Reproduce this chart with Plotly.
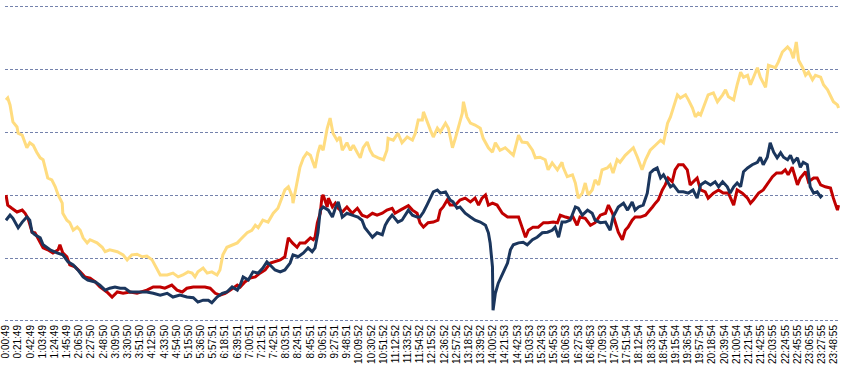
import plotly.graph_objects as go

# Tick labels (every 21 minutes)
tick_labels = [
    "0:00:49", "0:21:49", "0:42:49", "1:03:49", "1:24:49", "1:45:49", "2:06:50", "2:27:50",
    "2:48:50", "3:09:50", "3:30:50", "3:51:50", "4:12:50", "4:33:50", "4:54:50", "5:15:50",
    "5:36:50", "5:57:51", "6:18:51", "6:39:51", "7:00:51", "7:21:51", "7:42:51", "8:03:51",
    "8:24:51", "8:45:51", "9:06:51", "9:27:51", "9:48:51", "10:09:52", "10:30:52", "10:51:52",
    "11:12:52", "11:33:52", "11:54:52", "12:15:52", "12:36:52", "12:57:52", "13:18:52",
    "13:39:52", "14:00:52", "14:21:53", "14:42:53", "15:03:53", "15:24:53", "15:45:53",
    "16:06:53", "16:27:53", "16:48:53", "17:09:53", "17:30:54", "17:51:54", "18:12:54",
    "18:33:54", "18:54:54", "19:15:54", "19:36:54", "19:57:54", "20:18:54", "20:39:54",
    "21:00:54", "21:21:54", "21:42:55", "22:03:55", "22:24:55", "22:45:55", "23:06:55",
    "23:27:55", "23:48:55",
]
label_step = 21  # minutes between labels

# Yellow series (minute index, value)
yellow_x = [0, 3, 7, 10, 12, 19, 21, 28, 33, 36, 41, 47, 53, 59, 64, 67, 72, 79, 85, 90, 97, 98,
            105, 110, 116, 123, 128, 133, 140, 145, 157, 166, 171, 179, 192, 202, 209, 217, 226,
            235, 243, 252, 261, 266, 278, 288, 297, 305, 314, 321, 326, 331, 340, 347, 355, 364,
            369, 374, 381, 390, 399, 404, 416, 424, 430, 435, 443, 452, 461, 469, 476, 481, 487,
            494, 495, 502, 507, 513, 519, 525, 530, 533, 538, 542, 547, 554, 559, 564, 571, 576,
            580, 588, 594, 599, 606, 611, 616, 623, 628, 633, 642, 651, 657, 659, 668, 676, 683,
            692, 701, 706, 711, 718, 720, 726, 732, 737, 744, 749, 758, 763, 770, 775, 780, 787,
            789, 795, 801, 809, 818, 823, 832, 839, 844, 852, 861, 870, 875, 884, 890, 899, 908,
            913, 921, 930, 935, 942, 951, 959, 961, 968, 977, 982, 987, 994, 999, 1004, 1011,
            1016, 1022, 1028, 1037, 1042, 1047, 1054, 1059, 1068, 1073, 1082, 1089, 1097, 1103,
            1111, 1120, 1129, 1134, 1141, 1146, 1151, 1158, 1163, 1172, 1177, 1184, 1189, 1194,
            1198, 1203, 1211, 1220, 1227, 1236, 1241, 1246, 1255, 1261, 1267, 1272, 1279, 1284,
            1289, 1296, 1301, 1310, 1315, 1322, 1327, 1332, 1339, 1348, 1353, 1358, 1363, 1367,
            1374, 1379, 1384, 1391, 1396, 1405, 1410, 1417, 1422, 1427, 1434, 1436]
yellow_y = [351, 354, 343, 330, 316, 308, 298, 295, 284, 275, 283, 279, 268, 259, 256, 243, 227,
            224, 213, 200, 187, 171, 160, 156, 144, 149, 144, 132, 124, 129, 124, 117, 110, 113,
            110, 105, 97, 105, 106, 102, 103, 97, 81, 73, 73, 76, 70, 73, 78, 76, 70, 78, 84, 76,
            78, 73, 81, 105, 117, 121, 124, 129, 140, 144, 152, 148, 160, 157, 171, 179, 195,
            208, 213, 197, 187, 219, 244, 259, 267, 263, 251, 243, 267, 279, 271, 306, 322, 298,
            287, 292, 271, 283, 271, 279, 267, 259, 275, 284, 271, 263, 259, 256, 271, 290, 287,
            298, 283, 292, 287, 298, 319, 319, 332, 319, 303, 292, 306, 300, 314, 306, 275, 290,
            308, 330, 348, 324, 314, 311, 306, 290, 275, 268, 283, 271, 275, 268, 263, 295, 284,
            283, 271, 259, 260, 256, 240, 251, 240, 252, 244, 229, 232, 219, 195, 203, 219, 200,
            208, 224, 216, 240, 243, 248, 235, 256, 252, 263, 267, 275, 260, 240, 256, 271, 279,
            287, 283, 314, 324, 340, 359, 354, 359, 351, 338, 324, 330, 327, 340, 359, 362, 348,
            359, 367, 356, 351, 375, 395, 387, 390, 375, 387, 402, 387, 371, 406, 403, 402, 411,
            427, 435, 430, 417, 443, 414, 402, 390, 395, 383, 390, 387, 375, 367, 356, 348, 343,
            338]

# Red series
red_x = [0, 3, 10, 19, 28, 33, 38, 45, 50, 59, 64, 72, 81, 90, 93, 98, 105, 110, 119, 128, 136,
         145, 154, 162, 174, 183, 192, 202, 214, 226, 235, 243, 254, 266, 274, 286, 295, 304, 312,
         323, 335, 343, 352, 361, 369, 378, 387, 399, 404, 412, 421, 430, 438, 447, 456, 464, 473,
         481, 487, 494, 502, 507, 516, 525, 530, 533, 537, 542, 545, 547, 554, 556, 563, 568, 573,
         580, 588, 597, 606, 614, 623, 632, 640, 649, 657, 666, 671, 680, 689, 694, 701, 709, 714,
         720, 728, 737, 745, 749, 754, 761, 766, 775, 783, 792, 801, 809, 815, 821, 827, 832, 839,
         847, 856, 865, 875, 884, 890, 896, 901, 909, 918, 927, 935, 944, 951, 956, 965, 973, 978,
         985, 990, 999, 1008, 1016, 1025, 1034, 1039, 1046, 1051, 1056, 1063, 1068, 1073, 1080,
         1085, 1094, 1103, 1108, 1115, 1120, 1125, 1132, 1137, 1142, 1149, 1154, 1160, 1168, 1175,
         1180, 1185, 1192, 1198, 1206, 1211, 1220, 1229, 1237, 1246, 1255, 1261, 1270, 1279, 1284,
         1289, 1298, 1306, 1315, 1322, 1329, 1338, 1344, 1349, 1356, 1365, 1370, 1379, 1384, 1393,
         1399, 1405, 1413, 1422, 1427, 1434, 1436]
red_y = [200, 184, 179, 173, 176, 171, 163, 141, 140, 124, 116, 113, 108, 113, 121, 108, 102, 89,
         86, 78, 70, 68, 62, 54, 46, 38, 46, 44, 46, 44, 46, 49, 54, 54, 52, 57, 49, 46, 52, 54,
         54, 54, 52, 44, 41, 44, 49, 57, 54, 62, 68, 70, 76, 81, 92, 94, 97, 102, 132, 124, 117,
         124, 124, 132, 129, 133, 156, 171, 197, 200, 181, 195, 181, 187, 179, 173, 181, 171, 179,
         168, 165, 171, 168, 171, 176, 179, 171, 176, 181, 183, 176, 171, 156, 149, 156, 157, 160,
         176, 181, 192, 184, 184, 192, 195, 189, 195, 184, 195, 200, 184, 187, 184, 171, 165, 165,
         165, 149, 133, 144, 149, 149, 156, 156, 157, 156, 168, 165, 163, 165, 152, 165, 163, 152,
         156, 168, 171, 184, 171, 156, 141, 129, 144, 149, 160, 165, 165, 168, 173, 181, 187, 192,
         208, 216, 227, 221, 240, 248, 248, 240, 216, 221, 227, 208, 205, 195, 203, 208, 203, 203,
         184, 208, 203, 195, 187, 192, 203, 208, 221, 229, 235, 235, 240, 232, 244, 216, 227, 237,
         221, 227, 227, 216, 213, 211, 195, 176, 184]

# Navy series
navy_x = [0, 7, 12, 21, 28, 36, 41, 45, 50, 59, 64, 76, 88, 98, 107, 116, 124, 133, 141, 154,
          162, 171, 179, 188, 197, 205, 214, 226, 235, 243, 254, 266, 278, 288, 300, 312, 323, 331,
          340, 349, 355, 364, 373, 381, 390, 399, 404, 409, 418, 426, 435, 443, 450, 456, 464, 473,
          481, 490, 495, 504, 513, 521, 528, 533, 538, 542, 547, 556, 563, 568, 573, 580, 588, 597,
          607, 614, 619, 625, 632, 640, 649, 654, 659, 666, 671, 676, 683, 689, 694, 701, 709, 714,
          720, 726, 732, 737, 744, 749, 758, 766, 771, 778, 783, 792, 801, 809, 818, 827, 832, 835,
          839, 840, 844, 849, 858, 865, 870, 875, 884, 892, 899, 908, 916, 925, 934, 942, 947, 953,
          959, 965, 973, 982, 987, 994, 1003, 1011, 1016, 1025, 1034, 1042, 1047, 1056, 1065, 1072,
          1080, 1085, 1091, 1099, 1106, 1111, 1117, 1123, 1129, 1134, 1141, 1146, 1151, 1160, 1168,
          1177, 1185, 1192, 1198, 1206, 1215, 1223, 1229, 1236, 1244, 1249, 1255, 1261, 1267, 1272,
          1279, 1287, 1296, 1301, 1306, 1313, 1318, 1324, 1330, 1336, 1341, 1348, 1353, 1358, 1365,
          1370, 1375, 1382, 1387, 1393, 1399, 1405, 1408]
navy_y = [160, 168, 163, 148, 157, 165, 160, 141, 137, 132, 121, 113, 108, 105, 94, 89, 81, 70,
          65, 62, 57, 49, 52, 54, 52, 52, 46, 46, 46, 46, 44, 41, 44, 38, 41, 38, 37, 30, 33, 33,
          29, 38, 44, 46, 54, 49, 57, 70, 65, 78, 76, 84, 94, 89, 81, 78, 81, 92, 105, 102, 108,
          116, 110, 116, 140, 176, 181, 176, 165, 179, 189, 165, 171, 168, 165, 160, 148, 141, 133,
          140, 137, 152, 160, 168, 163, 157, 160, 168, 176, 168, 165, 165, 173, 184, 195, 205, 208,
          203, 205, 192, 189, 179, 181, 171, 165, 160, 157, 152, 140, 124, 86, 17, 44, 60, 78, 92,
          113, 121, 124, 125, 121, 129, 133, 140, 141, 144, 149, 133, 157, 157, 160, 181, 179, 168,
          176, 171, 160, 156, 157, 144, 165, 181, 187, 176, 189, 176, 181, 184, 203, 235, 240, 243,
          227, 232, 221, 213, 216, 205, 205, 203, 208, 195, 216, 221, 216, 221, 213, 221, 213, 203,
          213, 219, 213, 237, 243, 248, 252, 260, 248, 260, 283, 268, 259, 267, 260, 256, 263, 252,
          259, 244, 252, 248, 213, 203, 205, 197, 200]

fig = go.Figure()
fig.add_trace(go.Scatter(x=yellow_x, y=yellow_y, mode="lines",
                         line=dict(color="#FFDC7F", width=3), hoverinfo="skip"))
fig.add_trace(go.Scatter(x=red_x, y=red_y, mode="lines",
                         line=dict(color="#C00000", width=3), hoverinfo="skip"))
fig.add_trace(go.Scatter(x=navy_x, y=navy_y, mode="lines",
                         line=dict(color="#1B365D", width=3), hoverinfo="skip"))

tick_vals = [i * label_step for i in range(len(tick_labels))]

fig.update_layout(
    width=848, height=373,
    margin=dict(l=5, r=8, t=5, b=51, pad=0),
    paper_bgcolor="white", plot_bgcolor="white",
    showlegend=False,
    font=dict(family="Liberation Sans, Arial, sans-serif", size=10, color="#000000"),
    xaxis=dict(range=[-1.7, 1438.4], tickvals=tick_vals, ticktext=tick_labels,
               tickangle=-90, showgrid=False, zeroline=False, showline=False,
               ticks="", tickfont=dict(size=10), automargin=False),
    yaxis=dict(range=[-1.6, 501.6], tickvals=[0, 100, 200, 300, 400, 500], showticklabels=False,
               showgrid=True, gridcolor="#7482AC", griddash="3px,2px", gridwidth=1,
               zeroline=False, showline=False, ticks="", automargin=False),
)

fig.write_html("out.html", config={"displayModeBar": False},
               post_script="document.body.style.margin='0';document.body.style.overflow='hidden';")
